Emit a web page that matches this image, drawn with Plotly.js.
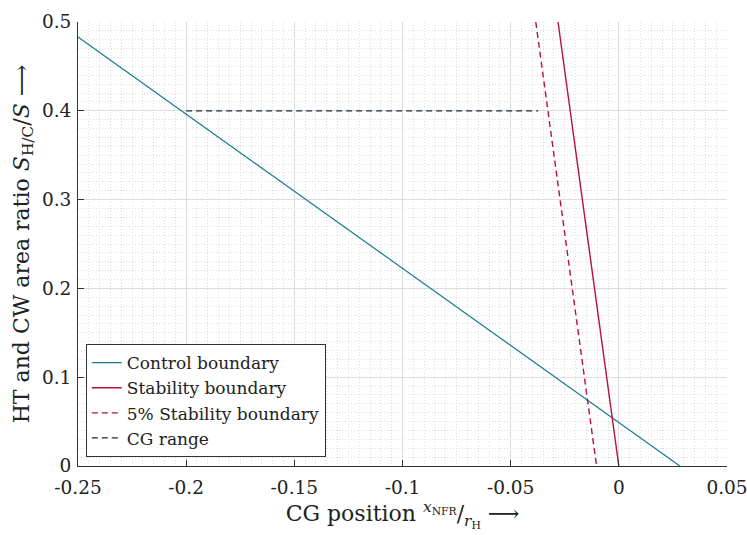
<!DOCTYPE html>
<html><head><meta charset="utf-8">
<script src="https://cdn.plot.ly/plotly-3.0.1.min.js"></script>
<style>body{margin:0;background:#fff}#chart{width:747px;height:535px}</style>
</head><body><div id="chart"></div>
<script>
// Data
const controlX = [-0.25, 0.0282];
const controlY = [0.483, 0];
const stabilityX = [-0.0281, 0.0];
const stabilityY = [0.5, 0];
const stab5X = [-0.0384, -0.0103];
const stab5Y = [0.5, 0];
const cgX = [-0.2, -0.0373];
const cgY = [0.4, 0.4];
const xTickVals = [-0.25, -0.2, -0.15, -0.1, -0.05, 0, 0.05];
const xTickText = ['-0.25', '-0.2', '-0.15', '-0.1', '-0.05', '0', '0.05'];
const yTickVals = [0, 0.1, 0.2, 0.3, 0.4, 0.5];
const yTickText = ['0', '0.1', '0.2', '0.3', '0.4', '0.5'];

const FONT = 'DejaVu Serif, Liberation Serif, serif';
const traces = [
  {x: controlX, y: controlY, mode: 'lines', name: 'Control boundary', line: {color: '#177c8c', width: 1.2}},
  {x: stabilityX, y: stabilityY, mode: 'lines', name: 'Stability boundary', line: {color: '#b5133a', width: 1.4}},
  {x: stab5X, y: stab5Y, mode: 'lines', name: '5% Stability boundary', line: {color: '#b5133a', width: 1.4, dash: '6px,4px'}},
  {x: cgX, y: cgY, mode: 'lines', name: 'CG range', line: {color: '#1b2a38', width: 1.2, dash: '6px,4px'}}
];
const layout = {
  width: 747, height: 535,
  margin: {l: 78, r: 20, t: 22, b: 69},
  paper_bgcolor: '#fff', plot_bgcolor: '#fff',
  font: {family: FONT, size: 18, color: '#222'},
  showlegend: true,
  legend: {x: 0.012, y: 0.02, xanchor: 'left', yanchor: 'bottom', bgcolor: '#fff',
    bordercolor: '#333', borderwidth: 1, font: {family: FONT, size: 17, color: '#222'},
    tracegroupgap: 0, itemwidth: 30},
  xaxis: {range: [-0.25, 0.05], tickvals: xTickVals, ticktext: xTickText,
    showline: true, linecolor: '#333', linewidth: 1, ticks: 'inside', ticklen: 6, tickcolor: '#333',
    ticklabelstandoff: 5, ticklabeloverflow: 'allow',
    showgrid: true, gridcolor: '#dcdcdc', gridwidth: 1, zeroline: false, mirror: false,
    minor: {dtick: 0.005, showgrid: true, gridcolor: '#dedede', griddash: '1px,2px', gridwidth: 1},
    title: {text: 'CG position <sup><i>x</i><sub>NFR</sub></sup>/<sub><i>r</i><sub>H</sub></sub> ⟶', font: {family: FONT, size: 22, color: '#222'}, standoff: 8},
    tickfont: {family: FONT, size: 18.5, color: '#222'}},
  yaxis: {range: [0, 0.5], tickvals: yTickVals, ticktext: yTickText,
    showline: true, linecolor: '#333', linewidth: 1, ticks: 'inside', ticklen: 6, tickcolor: '#333',
    ticklabelstandoff: 2, ticklabeloverflow: 'allow',
    showgrid: true, gridcolor: '#dcdcdc', gridwidth: 1, zeroline: false,
    minor: {dtick: 0.01, showgrid: true, gridcolor: '#dedede', griddash: '1px,2px', gridwidth: 1},
    title: {text: 'HT and CW area ratio <i>S</i><sub>H/C</sub>/<i>S</i> ⟶', font: {family: FONT, size: 22, color: '#222'}, standoff: 6},
    tickfont: {family: FONT, size: 18.5, color: '#222'}}
};
Plotly.newPlot('chart', traces, layout, {displayModeBar: false, staticPlot: true});
</script></body></html>
